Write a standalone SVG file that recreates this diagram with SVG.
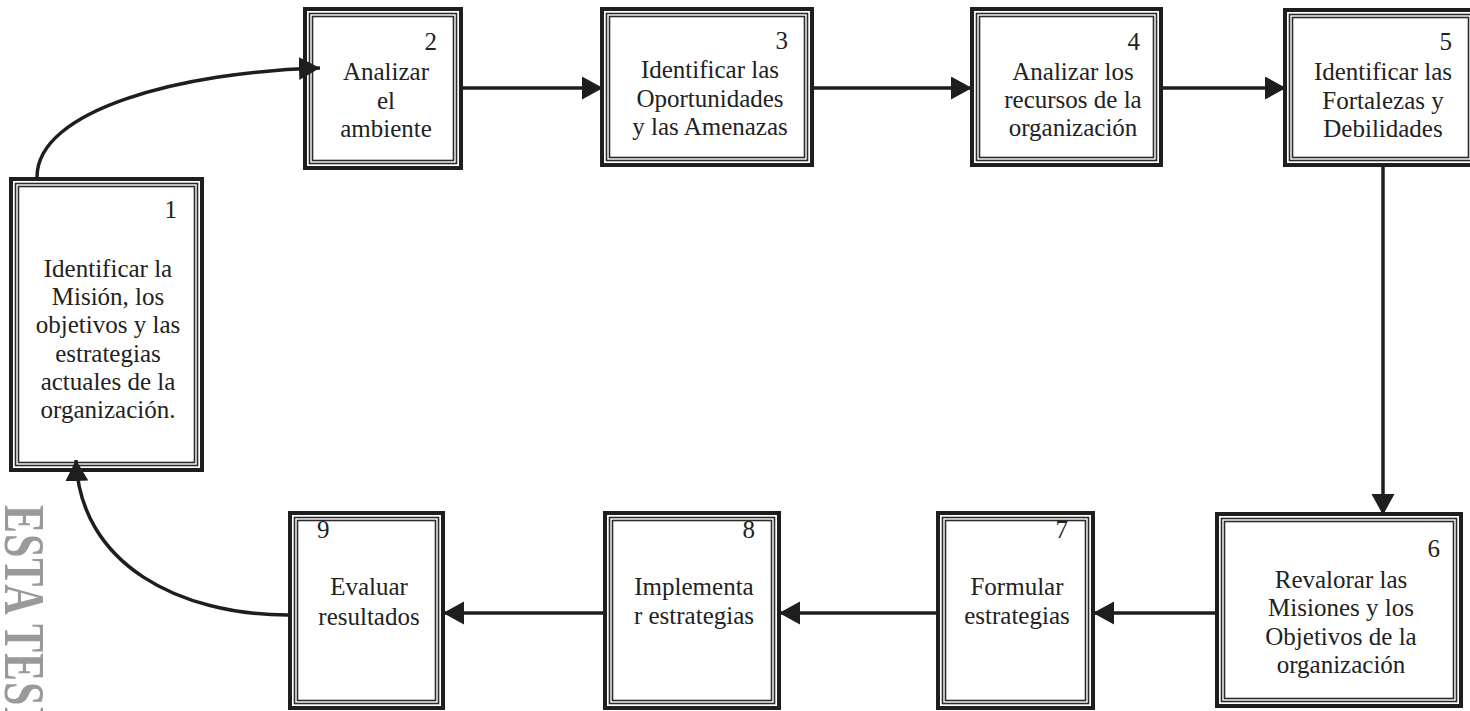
<svg xmlns="http://www.w3.org/2000/svg" width="1470" height="711" viewBox="0 0 1470 711">
<defs>
<style>
.o{fill:#fff;stroke:#1e1e1e;stroke-width:4}
.m{fill:none;stroke:#2a2a2a;stroke-width:1.6}
.t{font-family:"Liberation Serif","Times New Roman",serif;font-size:25px;fill:#222;text-anchor:middle}
.n{font-family:"Liberation Serif","Times New Roman",serif;font-size:25px;fill:#222;text-anchor:end}
.c{fill:none;stroke:#1e1e1e;stroke-width:3.5}
.wm{font-family:"Liberation Serif","Times New Roman",serif;font-weight:bold;font-size:42px;letter-spacing:1px;fill:#9a9a9a}
</style>
<marker id="ah" markerUnits="userSpaceOnUse" markerWidth="22" markerHeight="24" refX="21" refY="11.5" orient="auto" viewBox="0 0 22 24">
<path d="M0,0 L21,11.5 L0,23 z" fill="#1e1e1e"/>
</marker>
</defs>
<rect width="1470" height="711" fill="#fff"/>
<text class="wm" transform="translate(5,505) rotate(90) scale(1,1.37)">ESTA TESI</text>

<g id="node1">
<rect class="o" x="11" y="179" width="191" height="291"/>
<rect class="m" x="15.5" y="183.5" width="182" height="282"/>
<rect class="m" x="18.5" y="186.5" width="176" height="276"/>
<text class="n" x="177" y="218">1</text>
<text class="t" x="108"><tspan x="108" y="277">Identificar la</tspan><tspan x="108" y="305.2">Misión, los</tspan><tspan x="108" y="333.4">objetivos y las</tspan><tspan x="108" y="361.6">estrategias</tspan><tspan x="108" y="389.8">actuales de la</tspan><tspan x="108" y="418">organización.</tspan></text>
</g>

<g id="node2">
<rect class="o" x="305" y="9" width="156" height="159"/>
<rect class="m" x="309.5" y="13.5" width="147" height="150"/>
<rect class="m" x="312.5" y="16.5" width="141" height="144"/>
<text class="n" x="437" y="50">2</text>
<text class="t"><tspan x="386" y="80">Analizar</tspan><tspan x="386" y="108.5">el</tspan><tspan x="386" y="137">ambiente</tspan></text>
</g>

<g id="node3">
<rect class="o" x="602" y="9" width="210" height="156"/>
<rect class="m" x="606.5" y="13.5" width="201" height="147"/>
<rect class="m" x="609.5" y="16.5" width="195" height="141"/>
<text class="n" x="788" y="49">3</text>
<text class="t"><tspan x="710" y="78">Identificar las</tspan><tspan x="710" y="106.5">Oportunidades</tspan><tspan x="710" y="135">y las Amenazas</tspan></text>
</g>

<g id="node4">
<rect class="o" x="972" y="9" width="189" height="156"/>
<rect class="m" x="976.5" y="13.5" width="180" height="147"/>
<rect class="m" x="979.5" y="16.5" width="174" height="141"/>
<text class="n" x="1140" y="50">4</text>
<text class="t"><tspan x="1073" y="80">Analizar los</tspan><tspan x="1073" y="108">recursos de la</tspan><tspan x="1073" y="136">organización</tspan></text>
</g>

<g id="node5">
<rect class="o" x="1285" y="10" width="191" height="155"/>
<rect class="m" x="1289.5" y="14.5" width="182" height="146"/>
<rect class="m" x="1292.5" y="17.5" width="176" height="140"/>
<text class="n" x="1452" y="50">5</text>
<text class="t"><tspan x="1383" y="80">Identificar las</tspan><tspan x="1383" y="108.5">Fortalezas y</tspan><tspan x="1383" y="137">Debilidades</tspan></text>
</g>

<g id="node6">
<rect class="o" x="1217" y="514" width="244" height="192"/>
<rect class="m" x="1221.5" y="518.5" width="235" height="183"/>
<rect class="m" x="1224.5" y="521.5" width="229" height="177"/>
<text class="n" x="1440" y="557">6</text>
<text class="t"><tspan x="1341" y="588">Revalorar las</tspan><tspan x="1341" y="616.3">Misiones y los</tspan><tspan x="1341" y="644.6">Objetivos de la</tspan><tspan x="1341" y="672.9">organización</tspan></text>
</g>

<g id="node7">
<rect class="o" x="938" y="513" width="155" height="195"/>
<rect class="m" x="942.5" y="517.5" width="146" height="186"/>
<rect class="m" x="945.5" y="520.5" width="140" height="180"/>
<text class="n" x="1068" y="538">7</text>
<text class="t"><tspan x="1017" y="595">Formular</tspan><tspan x="1017" y="624">estrategias</tspan></text>
</g>

<g id="node8">
<rect class="o" x="605" y="513" width="174" height="195"/>
<rect class="m" x="609.5" y="517.5" width="165" height="186"/>
<rect class="m" x="612.5" y="520.5" width="159" height="180"/>
<text class="n" x="755" y="538">8</text>
<text class="t"><tspan x="694" y="595">Implementa</tspan><tspan x="694" y="624">r estrategias</tspan></text>
</g>

<g id="node9">
<rect class="o" x="290" y="513" width="153" height="195"/>
<rect class="m" x="294.5" y="517.5" width="144" height="186"/>
<rect class="m" x="297.5" y="520.5" width="138" height="180"/>
<text class="t" x="317" y="538" style="text-anchor:start">9</text>
<text class="t"><tspan x="369" y="595">Evaluar</tspan><tspan x="369" y="625">resultados</tspan></text>
</g>

<g id="connectors">
<path class="c" d="M37,177 C37,110 180,72 320,68" marker-end="url(#ah)"/>
<path class="c" d="M463,88 L603,88" marker-end="url(#ah)"/>
<path class="c" d="M814,88 L972,88" marker-end="url(#ah)"/>
<path class="c" d="M1163,88 L1286,88" marker-end="url(#ah)"/>
<path class="c" d="M1383,167 L1383,515" marker-end="url(#ah)"/>
<path class="c" d="M1215,613 L1093,613" marker-end="url(#ah)"/>
<path class="c" d="M936,613 L779,613" marker-end="url(#ah)"/>
<path class="c" d="M603,613 L443,613" marker-end="url(#ah)"/>
<path class="c" d="M288,615 C180,615 80,565 76,460" marker-end="url(#ah)"/>
</g>
</svg>
